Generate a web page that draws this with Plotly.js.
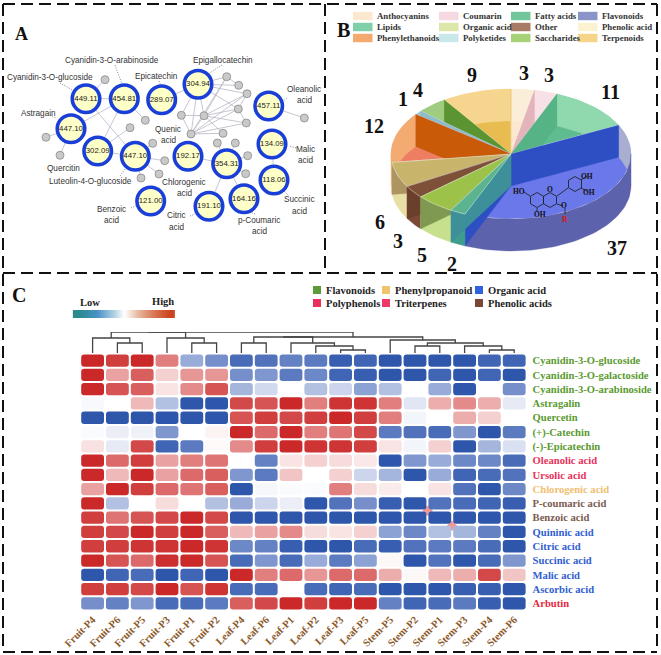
<!DOCTYPE html>
<html><head><meta charset="utf-8"><script src="https://cdn.plot.ly/plotly-3.0.1.min.js"></script>
<style>html,body{margin:0;padding:0;background:#fff}#g{width:661px;height:655px}</style></head>
<body><div id="g"></div>
<script>
// ---------- Panel A: network ----------
const hubValues=['449.11','454.81','289.07','304.94','457.11','447.10','302.09','447.10','192.17','354.31','134.09','118.06','121.00','191.10','164.16'];
const hubX=[86,124.3,161.7,198,268.7,71,97.7,135.3,188,226.7,272,274,150.7,209,244];
const hubY=[98.7,98.7,99.7,84.3,106,128.7,151,156.3,156.3,163.7,144,180,201,206.3,198.7];
const leafX=[105,145.3,130,46,60,152.7,164.7,159,141,226.7,238.7,247,238.3,246.3,223,191,181.3,204,304.3,217.3,235.3,247.7,245.7];
const leafY=[79.7,120.3,127.7,137.3,155.3,143.3,160.7,174,178,76.7,85.3,93.7,109,123,133.3,134,115.3,115.7,118,143,143,155.7,173.7];
// edges: [group, index, group, index]; h = hub, l = leaf
const edgePairs=[['h',0,'h',1],['h',0,'l',0],['h',1,'l',1],['h',1,'h',6],['h',1,'h',5],['h',0,'h',7],['h',6,'l',2],['h',5,'l',3],['h',5,'l',4],['h',6,'h',7],['h',7,'l',5],['h',7,'l',6],['h',7,'l',7],['h',7,'l',8],['h',2,'h',3],['h',3,'l',9],['h',3,'l',10],['h',3,'l',11],['h',3,'l',12],['h',3,'l',15],['h',3,'l',16],['h',3,'l',17],['l',9,'l',10],['l',9,'l',17],['l',9,'l',15],['l',11,'l',12],['l',11,'l',15],['l',11,'l',17],['l',12,'l',13],['l',12,'l',15],['l',12,'l',17],['l',13,'l',15],['l',13,'l',17],['l',14,'l',15],['l',14,'l',17],['l',15,'l',16],['l',15,'l',17],['l',16,'l',17],['h',4,'l',18],['h',10,'h',11],['h',8,'h',9],['h',9,'h',13],['h',9,'h',14],['h',9,'l',19],['h',9,'l',20],['h',9,'l',21],['h',9,'l',22]];
const netLabels=['Cyanidin-3-O-arabinoside','Cyanidin-3-O-glucoside','Epicatechin','Epigallocatechin','Oleanolic','acid','Astragain','Quenic','acid','Malic','acid','Quercitin','Luteolin-4-O-glucoside','Chlorogenic','acid','Succinic','acid','Benzoic','acid','Citric','acid','p-Coumaric','acid'];
const netLabelX=[112,50,156,223,304,304,38,168,168,305,305,63,90,184,184,299,299,111,111,176,176,259,259];
const netLabelY=[60,77,76,60,89,100,113,129,140,149,160,168,181,182,193,199,211,209,220,215,227,220,231];
const leaderSegs=[[115,65,122,84],[60,83,76,92],[159,81,161,86],[222,65,208,74],[287,98,282,102],[50,115,56,118],[120,176,128,165],[296,148,289,146],[284,191,289,196],[131,208,137,205],[190,216,195,214],[255,214,250,212]];

// ---------- Panel B: 3-D pie ----------
const pieLabels=['Anthocyanins','Coumarin','Fatty acids','Flavonoids','Lipids','Organic acid','Other','Phenolic acid','Phenylethanoids','Polyketides','Saccharides','Terpenoids'];
const pieValues=[3,3,11,37,2,5,3,6,12,1,4,9];
const pieFace=['#fbe8cf','#eec8d0','#5fbc90','#6a78ea','#5cb48e','#9cc24a','#7f5038','#c8b46a','#ee7e62','#a8d0dc','#8cc06a','#e8bc50'];
const pieBack=['#fbeed8','#f7e0e6','#90d8ae','#a8aed0','#3f9d8e','#c6e08e','#7a4a36','#e8dfa6','#f3ab72','#9fc7d6','#a0cc80','#f6d68e'];
const pieFront=['#fbeed8','#f7e0e6','#90d8ae','#5c62ab','#3f9d8e','#c6e08e','#7a4a36','#e8dfa6','#f3ab72','#9fc7d6','#a0cc80','#f6d68e'];
const pieWall=['#f3e3c0','#e4b4bc','#55b386','#2e4fc4','#3d8f9a','#7f9a50','#6a3f2c','#ad9562','#c85a08','#8fbccb','#5b9430','#e8bc50'];
const pieNumberX=[523.7,548.7,610.7,616.7,452,422,398.3,380.3,373.7,403.3,418.3,472.3];
const pieNumberY=[72.7,75.3,91.7,248.3,264,255,240.7,222,125.7,98.7,90,75];
const legendColX=[353,439,511,578];
const legendRowY=[16,27,38];
const legendFill=['#fbe8cf','#f5d8e0','#72c69c','#8a94c8','#7fd0a8','#dbe6a8','#a87c64','#faf2d0','#f4a970','#c8e8ea','#a8d278','#f6d48a'];

// ---------- Panel C: heat map ----------
const sampleNames=['Fruit-P4','Fruit-P6','Fruit-P5','Fruit-P3','Fruit-P1','Fruit-P2','Leaf-P4','Leaf-P6','Leaf-P1','Leaf-P2','Leaf-P3','Leaf-P5','Stem-P5','Stem-P2','Stem-P1','Stem-P3','Stem-P4','Stem-P6'];
const compoundNames=['Cyanidin-3-O-glucoside','Cyanidin-3-O-galactoside','Cyanidin-3-O-arabinoside','Astragalin','Quercetin','(+)-Catechin','(-)-Epicatechin','Oleanolic acid','Ursolic acid','Chlorogenic acid','P-coumaric acid','Benzoic acid','Quininic acid','Citric acid','Succinic acid','Malic acid','Ascorbic acid','Arbutin'];
const compoundColors=['#5a9a30','#5a9a30','#5a9a30','#5a9a30','#5a9a30','#5a9a30','#5a9a30','#e8315a','#e8315a','#f0c070','#7a5a50','#7a5a50','#3060d0','#3060d0','#3060d0','#3060d0','#3060d0','#e82a40'];
const heatRows=[
[.95,.85,.95,.55,-.4,-.55,-.8,-.75,-.65,-.7,-.9,-.85,-.95,-.95,-.95,-.95,-.85,-.85],
[.95,.4,.7,.2,.45,.45,-.55,-.5,-.7,-.6,-.85,-.9,-.95,-.95,-.85,-.95,-.85,-.95],
[.95,.75,.7,.12,.5,.75,-.35,-.18,0,-.3,-.2,-.45,-.3,0,-.4,-.95,0,-.55],
[-.03,0,.3,-.3,-.95,-.95,.8,.75,.95,.55,.9,.9,.55,-.12,.35,.5,.35,-.1],
[-.95,-.95,-.95,-.95,-.95,-.95,.75,.85,.8,.85,.95,.85,.55,-.05,0,.35,.2,0],
[-.02,-.08,-.06,-.5,0,.05,.95,.65,.95,.55,.6,.8,-.7,-.75,-.8,-.5,-.95,-.7],
[.13,-.1,.8,-.85,-.7,.02,.5,.85,.95,.9,.9,.85,.12,-.05,.2,-.95,-.35,-.15],
[.95,.65,.85,.4,.55,.6,0,-.65,.12,.2,.15,.1,-.95,-.5,-.4,-.6,-.6,-.8],
[.95,.3,.95,.4,.65,.7,-.5,-.7,.25,0,.2,-.2,-.35,-.95,-.4,-.85,-.8,-.75],
[.4,.95,.85,.65,.6,.7,-.95,-.04,-.02,-.02,.55,.15,.08,0,.12,-.75,-.95,-.6],
[.95,-.3,0,.15,0,-.3,-.4,-.2,-.08,-.95,-.75,-.55,-.9,-.95,-.75,-.8,-.85,-.9],
[.85,.6,.75,.8,.95,.8,-.95,-.95,-.95,-.95,-.95,-.95,-.95,-.95,-.95,-.95,-.95,-.95],
[.85,.8,.95,.85,.95,.7,.3,.4,.5,.15,.12,.2,-.45,-.6,-.3,-.35,-.65,-.95],
[.85,.85,.9,.9,.95,.9,-.6,-.65,-.9,-.95,-.95,-.8,-.9,-.75,-.7,-.7,-.8,-.95],
[.95,.75,.65,.92,.95,.75,-.8,-.5,-.8,-.4,-.7,-.45,.03,-.95,-.75,-.95,-.8,-.5],
[-.95,-.85,-.8,-.95,-.85,-.95,.95,.55,.65,.45,.65,.65,.35,.03,.3,.35,.8,.25],
[.85,.85,.8,.95,.75,.9,-.8,-.8,0,-.8,-.85,-.8,-.95,-.95,-.95,-.9,-.9,-.95],
[-.55,-.65,-.5,-.8,-.8,-.7,.7,.8,.95,.85,.95,.95,-.65,-.85,-.8,-.7,-.9,-.95]];
const heatScale=[[0,'#2550a8'],[.25,'#7f96cf'],[.5,'#ffffff'],[.75,'#e48a8a'],[1,'#c81e1e']];
const barScaleSteps=[-1,-.75,-.5,-.25,0,.25,.5,.75,1];
const barScale=[[0,'#2a8a8c'],[.2,'#4a92c8'],[.4,'#b8d4e4'],[.5,'#ffffff'],[.65,'#e8b8a0'],[.85,'#d8704c'],[1,'#cc4420']];
// dendrogram: [left, right, height]; numbers are columns
const dendroTree=[[[0,[1,2,10],15],[3,[4,5,10],15],21],[[[6,7,10],[8,[9,[10,11,3],7],10],16],[12,[[13,14,7],[15,[16,17,3],7],10],13],16],21];
const panelC_legend=[['Flavonoids','#5d9a3c',313,290],['Phenylpropanoid','#eec46c',382,290],['Organic acid','#2f62e0',475,290],['Polyphenols','#e8305a',313,303],['Triterpenes','#f03868',382,303],['Phenolic acids','#7a4638',475,303]];

const traces=[];
const annotations=[];
const shapes=[];
const serif='"Liberation Serif", serif', sans='"Liberation Sans", Arial, sans-serif';
function txt(text,x,y,size,color,family,bold,anchor){
  annotations.push({text,x,y,xref:'x',yref:'y',showarrow:false,xanchor:anchor||'center',yanchor:'middle',
    font:{size,color,family,weight:bold?'bold':'normal'},borderpad:0,bgcolor:'rgba(0,0,0,0)'});
}
// dashed panel frames
[[3,4,657,4],[3,4,3,652],[657,4,657,652],[3,652,657,652],[3,273,657,273],[325,4,325,273]].forEach(s=>{
  shapes.push({type:'line',xref:'x',yref:'y',x0:s[0],y0:s[1],x1:s[2],y1:s[3],line:{color:'#111',width:2,dash:'12px,6px'}});
});
txt('A',21,34,18,'#111',serif,true);
txt('B',343,30,20,'#111',serif,true);
txt('C',19,295,20,'#111',serif,true);

// --- network ---
const ex=[],ey=[];
const nx=(g,i)=>g==='h'?hubX[i]:leafX[i], ny=(g,i)=>g==='h'?hubY[i]:leafY[i];
edgePairs.forEach(e=>{ex.push(nx(e[0],e[1]),nx(e[2],e[3]),null);ey.push(ny(e[0],e[1]),ny(e[2],e[3]),null);});
traces.push({type:'scatter',mode:'lines',x:ex,y:ey,line:{color:'#b8b8c6',width:.8},hoverinfo:'skip',xaxis:'x',yaxis:'y'});
const lx=[],ly=[];
leaderSegs.forEach(s=>{lx.push(s[0],s[2],null);ly.push(s[1],s[3],null);});
traces.push({type:'scatter',mode:'lines',x:lx,y:ly,line:{color:'#667',width:.8,dash:'1px,1.5px'},hoverinfo:'skip'});
traces.push({type:'scatter',mode:'markers',x:leafX,y:leafY,marker:{size:8,color:'#c9c9c9',line:{color:'#8a8a8a',width:.8}},hoverinfo:'skip'});
traces.push({type:'scatter',mode:'markers+text',x:hubX,y:hubY,text:hubValues,textposition:'middle center',
  textfont:{size:7.8,family:sans,color:'#222'},marker:{size:27.5,color:'#ffffc8',line:{color:'#1a3fd8',width:3.6}},hoverinfo:'skip'});
netLabels.forEach((t,i)=>txt(t,netLabelX[i],netLabelY[i],8.2,'#333',sans,false));

// --- pie geometry from values ---
const cx=511,cy=154,rx=120,ry=65,depth=32,total=pieValues.reduce((a,b)=>a+b,0);
const px=a=>cx+rx*Math.sin(a), py=a=>cy-ry*Math.cos(a);
function arc(a0,a1,off){const n=Math.max(2,Math.ceil(Math.abs(a1-a0)/0.04)),xs=[],ys=[];
  for(let k=0;k<=n;k++){const a=a0+(a1-a0)*k/n;xs.push(px(a));ys.push(py(a)+off);}return[xs,ys];}
function poly(xs,ys,color,line){traces.push({type:'scatter',mode:'lines',x:xs.concat(xs[0]),y:ys.concat(ys[0]),fill:'toself',fillcolor:color,
  line:{color:line||color,width:line?.8:0.3},hoverinfo:'skip'});}
let acc=0;const slices=pieValues.map((v,i)=>{const a0=acc/total*2*Math.PI;acc+=v;const a1=acc/total*2*Math.PI;return{i,a0,a1,mid:(a0+a1)/2};});
slices.slice().sort((p,q)=>Math.cos(q.mid)-Math.cos(p.mid)).forEach(s=>{
  const i=s.i,[ax,ay]=arc(s.a0,s.a1,0);
  const face=()=>poly([cx].concat(ax),[cy].concat(ay),pieFace[i],'rgba(255,255,255,0.55)');
  // lower-left slices show their top over the cut walls; the others show the walls through the glass top
  const faceLast=s.mid>Math.PI&&s.mid<1.5*Math.PI;
  if(!faceLast) face();
  const sideBand=(b0,b1,c)=>{if(b1<=b0)return;const[tx,ty]=arc(b0,b1,0),[bx,by]=arc(b1,b0,depth);poly(tx.concat(bx),ty.concat(by),c);};
  const h1=Math.PI/2,h2=3*Math.PI/2;
  sideBand(s.a0,Math.min(s.a1,h1),pieBack[i]);
  sideBand(Math.max(s.a0,h1),Math.min(s.a1,h2),pieFront[i]);
  sideBand(Math.max(s.a0,h2),s.a1,pieBack[i]);
  const wall=a=>poly([cx,px(a),px(a),cx],[cy,py(a),py(a)+depth,cy+depth],pieWall[i]);
  if(s.a0<Math.PI) wall(s.a0);
  if(s.a1>Math.PI) wall(s.a1);
  if(faceLast) face();
});
// flavonoid skeleton drawn over the blue slice
function hex(c,d,r){const xs=[],ys=[];for(let k=0;k<=6;k++){const a=k*Math.PI/3;xs.push(c+r*Math.sin(a));ys.push(d-r*Math.cos(a));}xs.push(null);ys.push(null);return[xs,ys];}
const mx=[],my=[];
[[537,200,7.5],[550,200,7.5],[575,184,7.5]].forEach(h=>{const[a,b]=hex(h[0],h[1],h[2]);mx.push(...a);my.push(...b);});
[[557,196,568,188],[530,196,524,192],[537,208,537,212],[581,180,587,176],[581,188,587,191],[557,204,563,206],[565,208,565,214]].forEach(b=>{mx.push(b[0],b[2],null);my.push(b[1],b[3],null);});
traces.push({type:'scatter',mode:'lines',x:mx,y:my,line:{color:'#20242e',width:.9},hoverinfo:'skip'});
txt('HO',519,191,7.5,'#111',serif,true);txt('OH',540,214,7.5,'#111',serif,true);txt('O',550,189,7.5,'#111',serif,true);
txt('OH',587,176,7.5,'#111',serif,true);txt('OH',589,192,7.5,'#111',serif,true);txt('O',564,205,7.5,'#111',serif,true);txt('R',565,219,7.5,'#e01010',serif,true);
pieValues.forEach((v,i)=>txt(String(v),pieNumberX[i],pieNumberY[i],20,'#111',serif,true));
pieLabels.forEach((t,i)=>{const c=i%4,r=Math.floor(i/4),x=legendColX[c],y=legendRowY[r];
  shapes.push({type:'rect',xref:'x',yref:'y',x0:x,x1:x+19.5,y0:y-4.2,y1:y+4.2,fillcolor:legendFill[i],line:{width:0}});
  txt(t,x+22.5,y,8.8,'#333',serif,true,'left');});

// --- heat map cells ---
const cellX=[],cellBase=[],cellH=[],cellVal=[];
heatRows.forEach((row,r)=>row.forEach((v,c)=>{cellX.push(c);cellBase.push(r-.43);cellH.push(.86);cellVal.push(v);}));
traces.push({type:'bar',x:cellX,y:cellH,base:cellBase,width:.92,marker:{color:cellVal,colorscale:heatScale,cmin:-1,cmax:1,cornerradius:3,line:{width:0}},
  xaxis:'x2',yaxis:'y2',hoverinfo:'skip',showlegend:false});
// dendrogram
const dx=[],dy=[];
function dendro(n){if(typeof n==='number')return[n,0];const[a,ah]=dendro(n[0]),[b,bh]=dendro(n[1]);
  dx.push(a,a,b,b,null);dy.push(ah,n[2],n[2],bh,null);return[(a+b)/2,n[2]];}
dendro(dendroTree);
traces.push({type:'scatter',mode:'lines',x:dx,y:dy,line:{color:'#444',width:1.3},xaxis:'x2',yaxis:'y3',hoverinfo:'skip'});
// small red marks between stem cells
traces.push({type:'scatter',mode:'markers',x:[427.7,452],y:[510.7,525.7],marker:{symbol:'diamond',size:8,color:'rgba(232,120,120,.75)'},hoverinfo:'skip'});
// colour key
traces.push({type:'heatmap',z:[barScaleSteps],x0:78.5,dx:90.5/(barScaleSteps.length-1),y0:314,dy:8,colorscale:barScale,zmin:-1,zmax:1,zsmooth:'best',showscale:false,hoverinfo:'skip'});
txt('Low',90,302,10.5,'#222',serif,true);txt('High',163,301.5,10.5,'#222',serif,true);
panelC_legend.forEach(l=>{shapes.push({type:'rect',xref:'x',yref:'y',x0:l[2],x1:l[2]+8,y0:l[3]-4,y1:l[3]+4,fillcolor:l[1],line:{width:0}});
  txt(l[0],l[2]+12,l[3],10.5,'#222',serif,true,'left');});

const hide={visible:false,showgrid:false,zeroline:false};
const layout={width:661,height:655,margin:{l:0,r:0,t:0,b:0},paper_bgcolor:'#fff',plot_bgcolor:'rgba(0,0,0,0)',showlegend:false,barmode:'overlay',
  xaxis:{...hide,range:[0,661],domain:[0,1],anchor:'y'},
  yaxis:{...hide,range:[655,0],domain:[0,1],anchor:'x'},
  xaxis2:{domain:[80.2/661,526.6/661],range:[-.5,17.5],anchor:'y2',tickmode:'array',tickvals:sampleNames.map((_,i)=>i),ticktext:sampleNames,tickangle:-45,
    tickfont:{family:serif,size:10.5,color:'#8b5a2b',weight:'bold'},showgrid:false,zeroline:false,showline:false,ticks:'',ticklabelstandoff:0,automargin:false},
  yaxis2:{domain:[(655-610.5)/655,(655-353.5)/655],range:[17.5,-.5],anchor:'x2',side:'right',tickmode:'array',tickvals:compoundNames.map((_,i)=>i),
    ticktext:compoundNames.map((n,i)=>'<span style="color:'+compoundColors[i]+'">'+n+'</span>'),tickfont:{family:serif,size:10.6,weight:'bold'},showgrid:false,zeroline:false,showline:false,ticks:'',ticklabelstandoff:5,automargin:false},
  yaxis3:{...hide,domain:[(655-353)/655,(655-332)/655],range:[0,21],anchor:'x2'},
  annotations,shapes};
Plotly.newPlot('g',traces,layout,{displayModeBar:false,staticPlot:true});
</script></body></html>
